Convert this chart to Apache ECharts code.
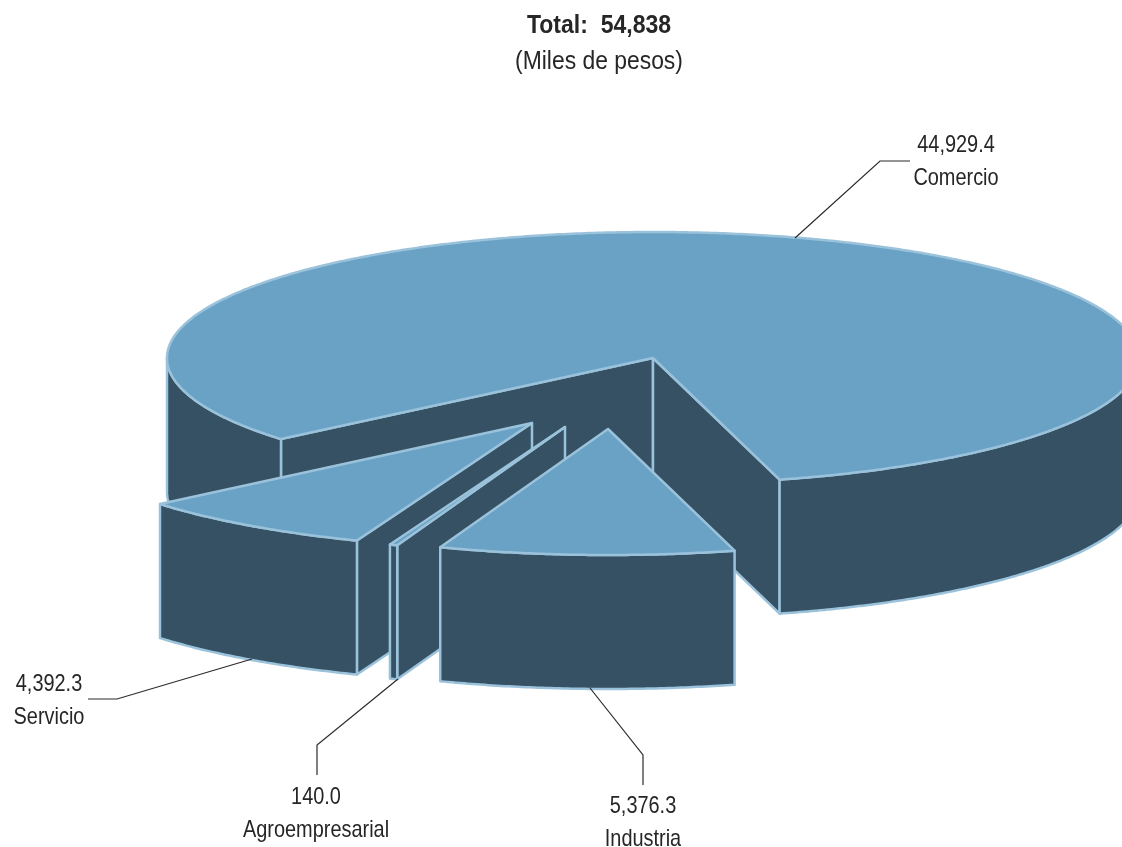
<!DOCTYPE html>
<html>
<head>
<meta charset="utf-8">
<style>html,body{margin:0;padding:0;background:#fff}#c{width:1122px;height:847px}</style>
<script src="https://cdn.jsdelivr.net/npm/echarts@6/dist/echarts.min.js"></script>
</head>
<body>
<div id="c"></div>
<script>
var categories = ['Comercio', 'Servicio', 'Agroempresarial', 'Industria'];
var values = [44929.4, 4392.3, 140.0, 5376.3];
var valueLabels = ['44,929.4', '4,392.3', '140.0', '5,376.3'];
var titleText = 'Total:  54,838';
var subtitleText = '(Miles de pesos)';

// layout only
var CX = 653, CY = 358, RX = 486, RY = 126, DEPTH = 134, START_ANGLE = 74.9;
var OFFSETS = [[0, 0], [-121, 65], [-88, 69], [-45, 71]];
var LEADERS = [
  [[795, 238], [880, 161], [910, 161]],
  [[252, 659], [117, 699], [88, 699]],
  [[398, 679], [317, 745], [317, 775]],
  [[590, 688], [643, 755], [643, 785]]
];
var LABEL_POS = [[956, 145, 178], [49, 684, 717], [316, 797, 830], [643, 806, 839]];
var TOP = '#6AA2C5', SIDE = '#365163', EDGE = '#9BC2DB', INK = '#262626', FONT = '"Liberation Sans",Arial,sans-serif';
var total = values.reduce(function (a, b) { return a + b; }, 0);

function pt(deg, off, dz) {
  var r = deg * Math.PI / 180;
  return [CX + off[0] + RX * Math.cos(r), CY + off[1] + RY * Math.sin(r) + (dz || 0)];
}
function arc(a, b, off, dz) {
  var pts = [], n = Math.max(2, Math.ceil(Math.abs(b - a) * 2));
  for (var i = 0; i <= n; i++) pts.push(pt(a + (b - a) * i / n, off, dz));
  return pts;
}
function poly(points, fill) {
  return { type: 'polygon', shape: { points: points },
    style: { fill: fill, stroke: EDGE, lineWidth: 2.5, lineJoin: 'round' } };
}
function wall(a, b, off) {
  return poly(arc(a, b, off, 0).concat(arc(b, a, off, DEPTH)), SIDE);
}
function cutFace(deg, off) {
  var apex = [CX + off[0], CY + off[1]], p = pt(deg, off, 0);
  return poly([apex, p, [p[0], p[1] + DEPTH], [apex[0], apex[1] + DEPTH]], SIDE);
}
function angleRange(idx) {
  var before = 0;
  for (var i = 0; i < idx; i++) before += values[i];
  var hi = START_ANGLE + 360 - before / total * 360;
  var lo = hi - values[idx] / total * 360;
  return [lo, hi];
}
function textEl(text, x, y, size, scale, weight) {
  return { type: 'text', x: x, y: y, scaleX: scale, z2: 6,
    style: { text: text, x: 0, y: 0, align: 'center', verticalAlign: 'middle',
      font: (weight ? weight + ' ' : '') + size + 'px ' + FONT, fill: INK } };
}
function renderSlice(params, api) {
  var idx = params.dataIndex, range = angleRange(idx), t0 = range[0], t1 = range[1];
  var off = OFFSETS[idx], kids = [];
  if (Math.cos(t0 * Math.PI / 180) < 0) kids.push(cutFace(t0, off));
  if (Math.cos(t1 * Math.PI / 180) > 0) kids.push(cutFace(t1, off));
  // front-facing outer wall: angles where sin > 0
  for (var k = -1; k <= 1; k++) {
    var a = Math.max(t0, k * 360), b = Math.min(t1, k * 360 + 180);
    if (b > a) kids.push(wall(a, b, off));
  }
  kids.push(poly([[CX + off[0], CY + off[1]]].concat(arc(t0, t1, off, 0)), TOP));
  kids.push({ type: 'polyline', shape: { points: LEADERS[idx] }, z2: 5,
    style: { fill: null, stroke: '#2b2b2b', lineWidth: 1.2 } });
  var lp = LABEL_POS[idx];
  kids.push(textEl(valueLabels[idx], lp[0], lp[1], 24, 0.83));
  kids.push(textEl(categories[idx], lp[0], lp[2], 24, 0.83));
  return { type: 'group', children: kids };
}

var chart = echarts.init(document.getElementById('c'), null, { renderer: 'canvas' });
chart.setOption({
  animation: false,
  backgroundColor: '#fff',
  graphic: [
    textEl(titleText, 599, 26, 26, 0.886, 'bold'),
    textEl(subtitleText, 599, 62, 26, 0.88)
  ],
  series: [{
    type: 'custom', coordinateSystem: 'none', silent: true, clip: false,
    renderItem: renderSlice,
    data: categories.map(function (c, i) { return { name: c, value: [values[i]] }; })
  }]
});
</script>
</body>
</html>
